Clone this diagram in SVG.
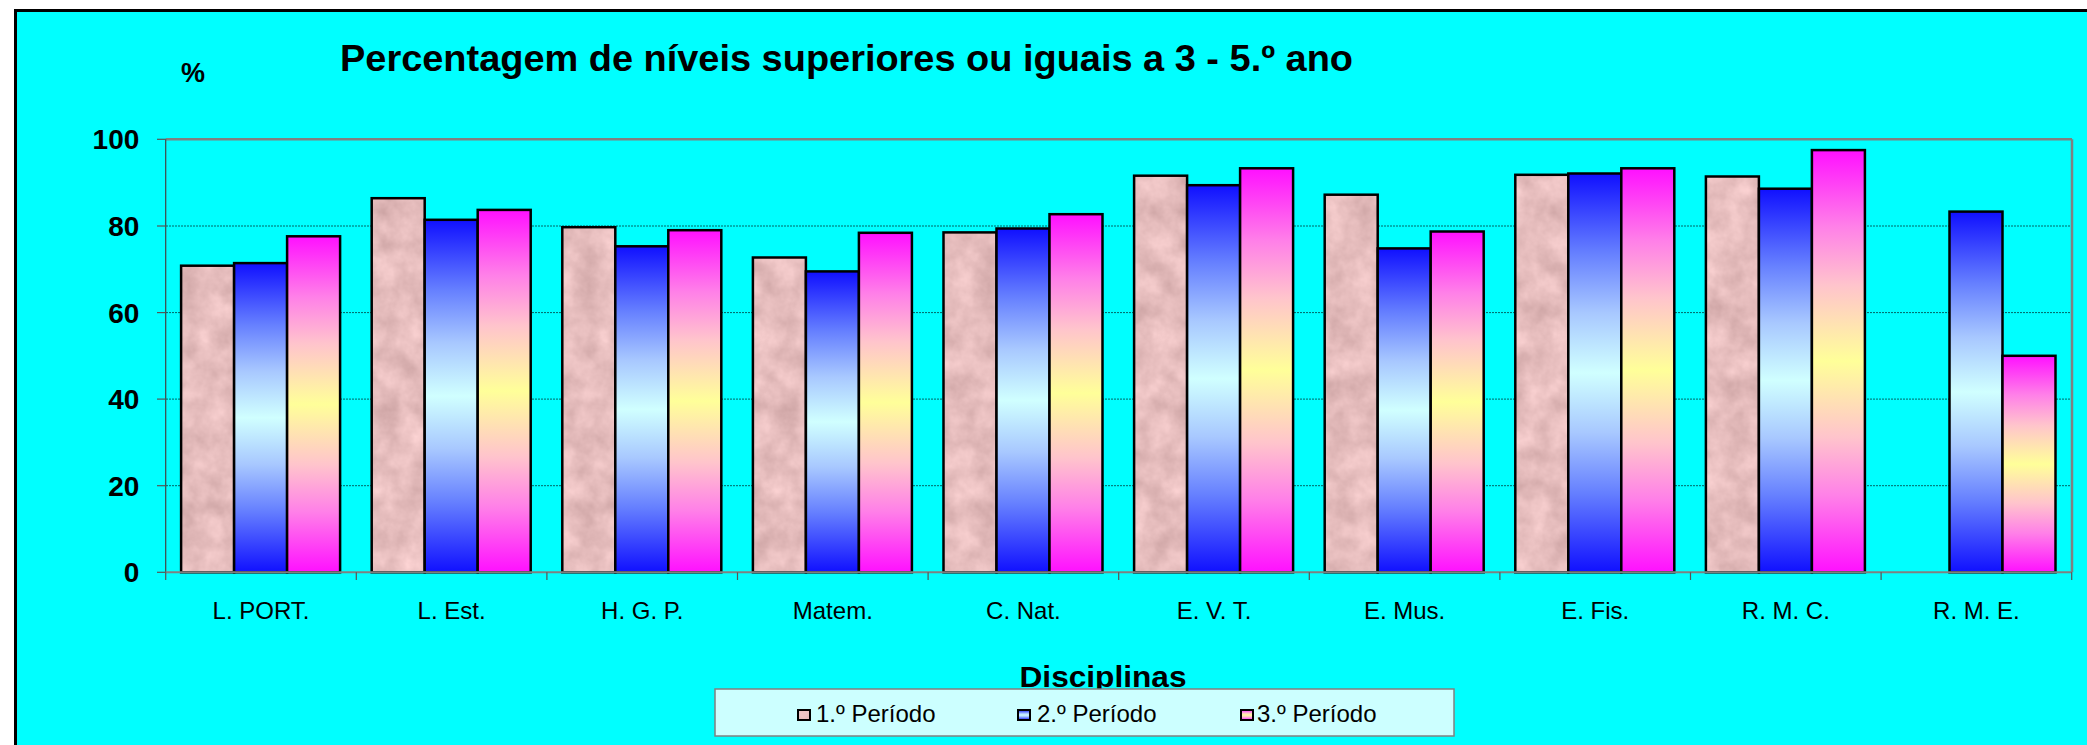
<svg xmlns="http://www.w3.org/2000/svg" width="2087" height="745" viewBox="0 0 2087 745">
<style>
.t{font-family:"Liberation Sans",Arial,sans-serif;fill:#000}
.b{font-weight:bold}
.cat{font-size:24px;text-anchor:middle}
.yl{font-size:28px;font-weight:bold;text-anchor:end}
.lg{font-size:24px}
.grid{stroke:#006666;stroke-width:1;stroke-dasharray:2 1}
.bar{stroke:#000;stroke-width:2.5}
.p1{fill:url(#marble)}
.p2{fill:url(#g2)}
.p3{fill:url(#g3)}
.tick{stroke:#555;stroke-width:1.2}
</style>
<defs>
<filter id="noise" x="0" y="0" width="100%" height="100%" color-interpolation-filters="sRGB">
<feTurbulence type="fractalNoise" baseFrequency="0.04" numOctaves="4" seed="3" stitchTiles="stitch"/>
<feColorMatrix type="matrix" values="0.22 0 0 0 0.79  0.22 0 0 0 0.63  0.22 0 0 0 0.63  0 0 0 0 1"/>
</filter>
<pattern id="marble" patternUnits="userSpaceOnUse" width="400" height="400">
<rect width="400" height="400" filter="url(#noise)"/>
</pattern>
<linearGradient id="g2" x1="0" y1="0" x2="0" y2="1">
<stop offset="0" stop-color="#1010FF"/>
<stop offset="0.2" stop-color="#6680FF"/>
<stop offset="0.35" stop-color="#a8c8ff"/>
<stop offset="0.5" stop-color="#D0FFFF"/>
<stop offset="0.65" stop-color="#a8c8ff"/>
<stop offset="0.8" stop-color="#6680FF"/>
<stop offset="1" stop-color="#1010FF"/>
</linearGradient>
<linearGradient id="g3" x1="0" y1="0" x2="0" y2="1">
<stop offset="0" stop-color="#FF10FF"/>
<stop offset="0.18" stop-color="#FF80E8"/>
<stop offset="0.32" stop-color="#FFC4CC"/>
<stop offset="0.5" stop-color="#FFFF99"/>
<stop offset="0.68" stop-color="#FFC4CC"/>
<stop offset="0.82" stop-color="#FF80E8"/>
<stop offset="1" stop-color="#FF10FF"/>
</linearGradient>
</defs>
<rect width="2087" height="745" fill="#fff"/>
<rect x="15.5" y="10.5" width="2080" height="740" fill="#00FFFF" stroke="#000" stroke-width="3"/>

<g id="title">
<text class="t b" x="340" y="71" font-size="37" textLength="1013" lengthAdjust="spacingAndGlyphs">Percentagem de níveis superiores ou iguais a 3 - 5.º ano</text>
<text class="t b" x="181" y="82" font-size="27">%</text>
</g>

<g id="grid">
<line class="grid" x1="166" y1="226" x2="2072" y2="226"/>
<line class="grid" x1="166" y1="312.6" x2="2072" y2="312.6"/>
<line class="grid" x1="166" y1="399.1" x2="2072" y2="399.1"/>
<line class="grid" x1="166" y1="485.7" x2="2072" y2="485.7"/>
<line x1="165.7" y1="139.3" x2="2072" y2="139.3" stroke="#808080" stroke-width="2.5"/>
<line x1="2072" y1="139.3" x2="2072" y2="572.3" stroke="#808080" stroke-width="2.5"/>
</g>

<g id="y-axis">
<line x1="165.7" y1="139.3" x2="165.7" y2="572.3" stroke="#444" stroke-width="1.2"/>
<line class="tick" x1="157" y1="139.3" x2="165.7" y2="139.3"/>
<line class="tick" x1="157" y1="226" x2="165.7" y2="226"/>
<line class="tick" x1="157" y1="312.6" x2="165.7" y2="312.6"/>
<line class="tick" x1="157" y1="399.1" x2="165.7" y2="399.1"/>
<line class="tick" x1="157" y1="485.7" x2="165.7" y2="485.7"/>
<line class="tick" x1="157" y1="572.3" x2="165.7" y2="572.3"/>
<text class="t yl" x="139.3" y="149.3">100</text>
<text class="t yl" x="139.3" y="236">80</text>
<text class="t yl" x="139.3" y="322.6">60</text>
<text class="t yl" x="139.3" y="409.1">40</text>
<text class="t yl" x="139.3" y="495.7">20</text>
<text class="t yl" x="139.3" y="582.3">0</text>
</g>

<g id="bars">
<rect class="bar p1" x="181.1" y="265.7" width="53" height="306.6"/>
<rect class="bar p2" x="234.1" y="263.1" width="53" height="309.2"/>
<rect class="bar p3" x="287.1" y="236.3" width="53" height="336"/>

<rect class="bar p1" x="371.7" y="198.2" width="53" height="374.1"/>
<rect class="bar p2" x="424.7" y="219.8" width="53" height="352.5"/>
<rect class="bar p3" x="477.7" y="209.9" width="53" height="362.4"/>

<rect class="bar p1" x="562.3" y="227.2" width="53" height="345.1"/>
<rect class="bar p2" x="615.3" y="246.3" width="53" height="326"/>
<rect class="bar p3" x="668.3" y="230.2" width="53" height="342.1"/>

<rect class="bar p1" x="752.9" y="257.5" width="53" height="314.8"/>
<rect class="bar p2" x="805.9" y="271.4" width="53" height="300.9"/>
<rect class="bar p3" x="858.9" y="232.8" width="53" height="339.5"/>

<rect class="bar p1" x="943.5" y="232.4" width="53" height="339.9"/>
<rect class="bar p2" x="996.5" y="228.5" width="53" height="343.8"/>
<rect class="bar p3" x="1049.5" y="214.2" width="53" height="358.1"/>

<rect class="bar p1" x="1134.1" y="175.7" width="53" height="396.6"/>
<rect class="bar p2" x="1187.1" y="185.2" width="53" height="387.1"/>
<rect class="bar p3" x="1240.1" y="168.3" width="53" height="404"/>

<rect class="bar p1" x="1324.7" y="194.7" width="53" height="377.6"/>
<rect class="bar p2" x="1377.7" y="248.4" width="53" height="323.9"/>
<rect class="bar p3" x="1430.7" y="231.5" width="53" height="340.8"/>

<rect class="bar p1" x="1515.3" y="174.8" width="53" height="397.5"/>
<rect class="bar p2" x="1568.3" y="173.5" width="53" height="398.8"/>
<rect class="bar p3" x="1621.3" y="168.3" width="53" height="404"/>

<rect class="bar p1" x="1705.9" y="176.5" width="53" height="395.8"/>
<rect class="bar p2" x="1758.9" y="188.7" width="53" height="383.6"/>
<rect class="bar p3" x="1811.9" y="150.1" width="53" height="422.2"/>

<rect class="bar p2" x="1949.5" y="211.6" width="53" height="360.7"/>
<rect class="bar p3" x="2002.5" y="355.8" width="53" height="216.5"/>
</g>

<g id="x-axis">
<line x1="165.7" y1="572.3" x2="2072" y2="572.3" stroke="#808080" stroke-width="2"/>
<line class="tick" x1="165.7" y1="572.3" x2="165.7" y2="580"/>
<line class="tick" x1="356.3" y1="572.3" x2="356.3" y2="580"/>
<line class="tick" x1="546.9" y1="572.3" x2="546.9" y2="580"/>
<line class="tick" x1="737.5" y1="572.3" x2="737.5" y2="580"/>
<line class="tick" x1="928.1" y1="572.3" x2="928.1" y2="580"/>
<line class="tick" x1="1118.7" y1="572.3" x2="1118.7" y2="580"/>
<line class="tick" x1="1309.3" y1="572.3" x2="1309.3" y2="580"/>
<line class="tick" x1="1499.9" y1="572.3" x2="1499.9" y2="580"/>
<line class="tick" x1="1690.5" y1="572.3" x2="1690.5" y2="580"/>
<line class="tick" x1="1881.1" y1="572.3" x2="1881.1" y2="580"/>
<line class="tick" x1="2071.7" y1="572.3" x2="2071.7" y2="580"/>
<text class="t cat" x="261" y="619">L. PORT.</text>
<text class="t cat" x="451.6" y="619">L. Est.</text>
<text class="t cat" x="642.2" y="619">H. G. P.</text>
<text class="t cat" x="832.8" y="619">Matem.</text>
<text class="t cat" x="1023.4" y="619">C. Nat.</text>
<text class="t cat" x="1214" y="619">E. V. T.</text>
<text class="t cat" x="1404.6" y="619">E. Mus.</text>
<text class="t cat" x="1595.2" y="619">E. Fis.</text>
<text class="t cat" x="1785.8" y="619">R. M. C.</text>
<text class="t cat" x="1976.4" y="619">R. M. E.</text>
<text class="t b" x="1103" y="687" font-size="30" text-anchor="middle" textLength="167" lengthAdjust="spacingAndGlyphs">Disciplinas</text>
</g>

<g id="legend">
<rect x="715" y="689" width="739" height="47" fill="#CCFFFF" stroke="#808080" stroke-width="1.5"/>
<rect class="p1" x="798" y="710" width="12" height="10" stroke="#000" stroke-width="2"/>
<text class="t lg" x="816" y="722">1.º Período</text>
<rect class="p2" x="1018" y="710" width="12" height="10" stroke="#000" stroke-width="2"/>
<text class="t lg" x="1037" y="722">2.º Período</text>
<rect class="p3" x="1241" y="710" width="12" height="10" stroke="#000" stroke-width="2"/>
<text class="t lg" x="1257" y="722">3.º Período</text>
</g>
</svg>
